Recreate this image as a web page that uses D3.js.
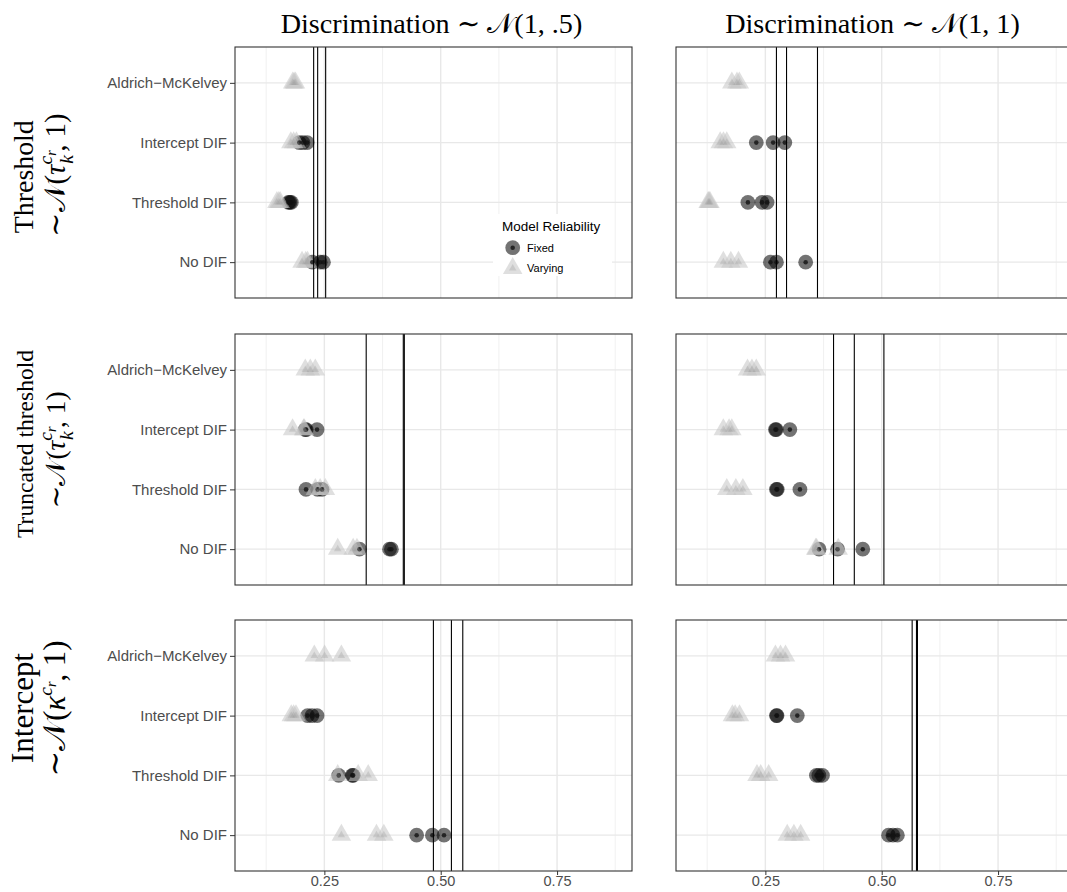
<!DOCTYPE html>
<html lang="en">
<head>
<meta charset="utf-8">
<style>
  body { margin: 0; background: #fff; }
  svg { display: block; }
  .sans { font-family: "Liberation Sans", Arial, Helvetica, sans-serif; }
  .serif { font-family: "Liberation Serif", "DejaVu Serif", serif; }
</style>
</head>
<body>
<div id="chart"></div>
<script src="https://cdn.jsdelivr.net/npm/d3@7"></script>
<script>
// categories on the y axis, top to bottom
const methods = ["Aldrich\u2212McKelvey", "Intercept DIF", "Threshold DIF", "No DIF"];
const xTicks = [0.25, 0.50, 0.75];
const xMinor = [0.125, 0.375, 0.625, 0.875];
const xDomain = [0.058, 0.911];

// one array per method (same order as methods), per panel
// row 1: Threshold, col 1: N(1,.5) / col 2: N(1,1)
const fixed_thr_05   = [[], [0.196, 0.204, 0.213], [0.173, 0.176, 0.179], [0.224, 0.241, 0.248]];
const varying_thr_05 = [[0.182, 0.185, 0.188], [0.178, 0.184, 0.190], [0.148, 0.152, 0.155], [0.202, 0.210, 0.214]];
const vlines_thr_05  = [0.227, 0.2356, 0.2528];

const fixed_thr_1   = [[], [0.2305, 0.2667, 0.2918], [0.2125, 0.2429, 0.2537], [0.2608, 0.2738, 0.3366]];
const varying_thr_1 = [[0.178, 0.189, 0.194], [0.153, 0.160, 0.167], [0.127, 0.129, 0.131], [0.1597, 0.1758, 0.1922]];
const vlines_thr_1  = [0.2738, 0.2955, 0.362];

// row 2: Truncated threshold
const fixed_trunc_05   = [[], [0.209, 0.211, 0.2343], [0.2106, 0.2356, 0.245], [0.3254, 0.390, 0.394]];
const varying_trunc_05 = [[0.209, 0.2198, 0.2306], [0.1817, 0.2054, 0.207], [0.2306, 0.241, 0.2522], [0.2787, 0.3119, 0.320]];
const vlines_trunc_05  = [0.3399, 0.4196, 0.4218];

const fixed_trunc_1   = [[], [0.2716, 0.2735, 0.3026], [0.2738, 0.2755, 0.3243], [0.3654, 0.4052, 0.4593]];
const varying_trunc_1 = [[0.2117, 0.2212, 0.2305], [0.1597, 0.172, 0.1779], [0.1671, 0.1866, 0.2017], [0.3582, 0.360, 0.4065]];
const vlines_trunc_1  = [0.3965, 0.4411, 0.5047];

// row 3: Intercept
const fixed_int_05   = [[], [0.214, 0.2235, 0.2343], [0.2808, 0.310, 0.3119], [0.4483, 0.4821, 0.5071]];
const varying_int_05 = [[0.2284, 0.2506, 0.2866], [0.1789, 0.184, 0.189], [0.2787, 0.3226, 0.3442], [0.2866, 0.362, 0.3778]];
const vlines_int_05  = [0.4843, 0.523, 0.5474];

const fixed_int_1   = [[], [0.2738, 0.275, 0.3186], [0.3597, 0.365, 0.3727], [0.5147, 0.5242, 0.5336]];
const varying_int_1 = [[0.2716, 0.2825, 0.2933], [0.1792, 0.185, 0.1944], [0.232, 0.240, 0.2571], [0.297, 0.3113, 0.3258]];
const vlines_int_1  = [0.5654, 0.5747, 0.5768];

const fixedData   = [[fixed_thr_05, fixed_thr_1], [fixed_trunc_05, fixed_trunc_1], [fixed_int_05, fixed_int_1]];
const varyingData = [[varying_thr_05, varying_thr_1], [varying_trunc_05, varying_trunc_1], [varying_int_05, varying_int_1]];
const vlineData   = [[vlines_thr_05, vlines_thr_1], [vlines_trunc_05, vlines_trunc_1], [vlines_int_05, vlines_int_1]];

const colTitles = ["(1, .5)", "(1, 1)"];
const rowTitles = ["Threshold", "Truncated threshold", "Intercept"];
const legendTitle = "Model Reliability";
const legendLabels = ["Fixed", "Varying"];

// layout
const W = 1067, H = 892;
const colX = [235, 676], panelW = 397;
const rowY = [47, 334, 620], panelH = 251;

const svg = d3.select("#chart").append("svg")
  .attr("width", W)
  .attr("height", H);

const circleBig = d3.symbol().type(d3.symbolCircle).size(172);
const circleDot = d3.symbol().type(d3.symbolCircle).size(16);
const triBig = d3.symbol().type(d3.symbolTriangle).size(165);
const triDot = d3.symbol().type(d3.symbolTriangle).size(24);

function flatten(groups) {
  const out = [];
  groups.forEach((vals, i) => vals.forEach(v => out.push({ m: methods[i], v: v })));
  return out;
}

rowY.forEach((py, r) => {
  colX.forEach((px, c) => {
    const x = d3.scaleLinear().domain(xDomain).range([px, px + panelW]);
    const y = d3.scalePoint().domain(methods).range([py, py + panelH]).padding(0.6);
    const g = svg.append("g");

    // grid
    g.selectAll(".minor").data(xMinor).enter().append("line")
      .attr("x1", d => x(d)).attr("x2", d => x(d))
      .attr("y1", py).attr("y2", py + panelH)
      .attr("stroke", "#ebebeb").attr("stroke-width", 0.7);
    g.selectAll(".major").data(xTicks).enter().append("line")
      .attr("x1", d => x(d)).attr("x2", d => x(d))
      .attr("y1", py).attr("y2", py + panelH)
      .attr("stroke", "#e8e8e8").attr("stroke-width", 1.4);
    g.selectAll(".hgrid").data(methods).enter().append("line")
      .attr("x1", px).attr("x2", px + panelW)
      .attr("y1", d => y(d)).attr("y2", d => y(d))
      .attr("stroke", "#e8e8e8").attr("stroke-width", 1.4);

    const fx = flatten(fixedData[r][c]);
    const vy = flatten(varyingData[r][c]);

    g.selectAll(".fixed").data(fx).enter().append("path")
      .attr("d", circleBig)
      .attr("transform", d => `translate(${x(d.v)},${y(d.m)})`)
      .attr("fill", "#000").attr("fill-opacity", 0.55);
    g.selectAll(".varying").data(vy).enter().append("path")
      .attr("d", triBig)
      .attr("transform", d => `translate(${x(d.v)},${y(d.m)})`)
      .attr("fill", "#c4c4c4").attr("fill-opacity", 0.55);
    g.selectAll(".fixedDot").data(fx).enter().append("path")
      .attr("d", circleDot)
      .attr("transform", d => `translate(${x(d.v)},${y(d.m)})`)
      .attr("fill", "#111").attr("fill-opacity", 0.8);
    g.selectAll(".varyingDot").data(vy).enter().append("path")
      .attr("d", triDot)
      .attr("transform", d => `translate(${x(d.v)},${y(d.m)})`)
      .attr("fill", "#999").attr("fill-opacity", 0.3);

    // reference lines
    g.selectAll(".vline").data(vlineData[r][c]).enter().append("line")
      .attr("x1", d => x(d)).attr("x2", d => x(d))
      .attr("y1", py).attr("y2", py + panelH)
      .attr("stroke", "#000").attr("stroke-width", 1.1);

    // border
    g.append("rect")
      .attr("x", px).attr("y", py).attr("width", panelW).attr("height", panelH)
      .attr("fill", "none").attr("stroke", "#333").attr("stroke-width", 1.1);

    if (c === 0) {
      const ay = g.append("g").attr("class", "sans")
        .attr("transform", `translate(${px},0)`)
        .call(d3.axisLeft(y).tickSize(5).tickPadding(3));
      ay.select(".domain").remove();
      ay.selectAll(".tick line").attr("stroke", "#333");
      ay.selectAll(".tick text").attr("fill", "#4d4d4d").style("font-size", "15px");
    }
    if (r === 2) {
      const ax = g.append("g").attr("class", "sans")
        .attr("transform", `translate(0,${py + panelH})`)
        .call(d3.axisBottom(x).tickValues(xTicks).tickFormat(d3.format(".2f")).tickSize(4).tickPadding(1));
      ax.select(".domain").remove();
      ax.selectAll(".tick line").attr("stroke", "#333");
      ax.selectAll(".tick text").attr("fill", "#4d4d4d").style("font-size", "14.5px");
    }
  });
});

// column headers
function fitFont(sel, target, base) {
  const len = sel.node().getComputedTextLength();
  sel.style("font-size", (base * target / len) + "px");
}
const headers = colTitles.map((t, c) => {
  const tx = svg.append("text").attr("class", "serif")
    .attr("x", colX[c] + panelW / 2 - 2).attr("y", 33)
    .attr("text-anchor", "middle").style("font-size", "28px");
  tx.append("tspan").text("Discrimination \u223C ");
  tx.append("tspan").text("\uD835\uDCA9");
  tx.append("tspan").text(t);
  return tx;
});
const hLen = headers[0].node().getComputedTextLength();
headers.forEach(h => h.style("font-size", (28 * 302 / hLen) + "px"));

// row strip labels (rotated)
const rowLab = [
  { cy1: 176.7, len1: 113, cy2: 175, len2: 134, sym: "\u03C4", k: true },
  { cy1: 444, len1: 188, cy2: 450, len2: 127, sym: "\u03C4", k: true },
  { cy1: 708, len1: 110, cy2: 708.5, len2: 137, sym: "\u03BA", k: false }
];
rowLab.forEach((d, r) => {
  const t1 = svg.append("text").attr("class", "serif")
    .attr("transform", `translate(33,${d.cy1}) rotate(-90)`)
    .attr("text-anchor", "middle").style("font-size", "28px")
    .text(rowTitles[r]);
  fitFont(t1, d.len1, 28);

  const F = 28;
  const t2 = svg.append("text").attr("class", "serif")
    .attr("transform", `translate(65,${d.cy2}) rotate(-90)`)
    .attr("text-anchor", "middle").style("font-size", F + "px");
  t2.append("tspan").text("\u223C");
  t2.append("tspan").text("\uD835\uDCA9(");
  t2.append("tspan").style("font-style", "italic").text(d.sym);
  t2.append("tspan").style("font-style", "italic").style("font-size", (0.7 * F) + "px")
    .attr("dy", -0.45 * F).text("c");
  t2.append("tspan").style("font-style", "italic").style("font-size", (0.5 * F) + "px")
    .attr("dy", 0.12 * F).text("r");
  if (d.k) {
    t2.append("tspan").style("font-style", "italic").style("font-size", (0.7 * F) + "px")
      .attr("dx", -0.48 * F).attr("dy", 0.6 * F).text("k");
    t2.append("tspan").attr("dx", 0.12 * F).attr("dy", -0.27 * F).text(", 1)");
  } else {
    t2.append("tspan").attr("dy", 0.33 * F).text(", 1)");
  }
  const l2 = t2.node().getComputedTextLength();
  t2.style("font-size", (F * d.len2 / l2) + "px");
});

// legend
const lg = svg.append("g").attr("class", "sans");
lg.append("rect").attr("x", 493).attr("y", 214).attr("width", 119).attr("height", 62).attr("fill", "#fff");
lg.append("text").attr("x", 502).attr("y", 231).style("font-size", "13.5px").attr("fill", "#000").text(legendTitle);
const ly = [247.7, 268.3];
lg.append("path").attr("d", circleBig).attr("transform", `translate(512.7,${ly[0]})`)
  .attr("fill", "#000").attr("fill-opacity", 0.55);
lg.append("path").attr("d", circleDot).attr("transform", `translate(512.7,${ly[0]})`)
  .attr("fill", "#111").attr("fill-opacity", 0.8);
lg.append("path").attr("d", triBig).attr("transform", `translate(512.7,${ly[1]})`)
  .attr("fill", "#c4c4c4").attr("fill-opacity", 0.55);
lg.append("path").attr("d", triDot).attr("transform", `translate(512.7,${ly[1]})`)
  .attr("fill", "#999").attr("fill-opacity", 0.3);
legendLabels.forEach((l, i) => {
  lg.append("text").attr("x", 527).attr("y", ly[i] + 4).style("font-size", "11px").attr("fill", "#000").text(l);
});
</script>
</body>
</html>
